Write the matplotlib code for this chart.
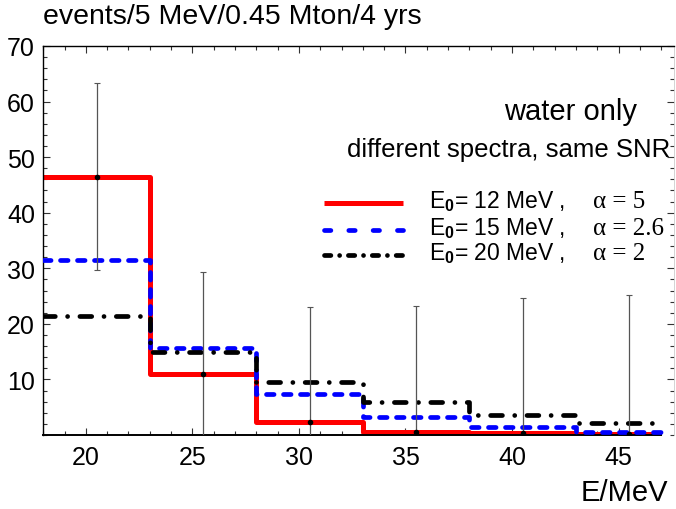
import numpy as np
import matplotlib
matplotlib.use("Agg")
import matplotlib.pyplot as plt
from matplotlib.lines import Line2D
from matplotlib.ticker import MultipleLocator

plt.rcParams["font.family"] = ["Liberation Sans", "DejaVu Sans"]
plt.rcParams["mathtext.fontset"] = "custom"
plt.rcParams["mathtext.rm"] = "Liberation Sans"
plt.rcParams["mathtext.bf"] = "Liberation Sans:bold"

# bin edges (MeV) and event counts per bin
edges = [18, 23, 28, 33, 38, 43, 47]
e12 = [46.5, 10.9, 2.3, 0.5, 0.3, 0.2]
e15 = [31.5, 15.7, 7.3, 3.3, 1.4, 0.6]
e20 = [21.5, 15.0, 9.6, 6.0, 3.6, 2.1]

# pseudo-data points with error bars
pt_x = [20.5, 25.5, 30.5, 35.5, 40.5, 45.5]
pt_y = [46.5, 10.9, 2.3, 0.5, 0.3, 0.2]
pt_err = [16.8, 18.4, 20.8, 22.8, 24.4, 25.0]

labels = [r"E$_{\mathbf{0}}$= 12 MeV ,", r"E$_{\mathbf{0}}$= 15 MeV ,", r"E$_{\mathbf{0}}$= 20 MeV ,"]
alphas = ["α = 5", "α = 2.6", "α = 2"]

fig = plt.figure(figsize=(6.76, 5.10), dpi=100)
ax = fig.add_axes([0.064, 0.145, 0.933, 0.763])

styles = [
    dict(color="#ff0000", lw=3.6, ls="-", zorder=2),
    dict(color="#0000ff", lw=3.4, ls=(0, (1.6, 2.0)), zorder=3),
    dict(color="#000000", lw=3.4, ls=(0, (2.5, 2.6, 0.01, 2.6)), zorder=4),
]
# the legend samples use a tighter/looser pattern than the curves
leg_ls = ["-", (0, (1.35, 3.8)), (0, (1.35, 1.85, 0.01, 1.85))]

for vals, st in zip([e12, e15, e20], styles):
    ax.step(edges, vals + [vals[-1]], where="post", solid_capstyle="butt",
            dash_capstyle="round", **st)

ax.errorbar(pt_x, pt_y, yerr=pt_err, fmt="o", ms=3, color="black",
            ecolor="#555555", elinewidth=0.9, capsize=2.2, capthick=0.8, zorder=5)

ax.set_xlim(18, 47.6)
ax.set_ylim(0, 70)
ax.xaxis.set_major_locator(MultipleLocator(5))
ax.xaxis.set_minor_locator(MultipleLocator(1))
ax.yaxis.set_major_locator(MultipleLocator(10))
ax.yaxis.set_minor_locator(MultipleLocator(2))
ax.set_xticks([20, 25, 30, 35, 40, 45])
ax.set_yticks([10, 20, 30, 40, 50, 60, 70])
ax.tick_params(which="both", direction="in", top=True, right=True,
               labelsize=18, width=0.8, color="#333333")
ax.tick_params(which="major", length=5)
ax.tick_params(which="minor", length=3)
ax.tick_params(axis="x", pad=7)
ax.tick_params(axis="y", pad=6)
for t in ax.yaxis.get_major_ticks() + ax.yaxis.get_minor_ticks():
    t.tick2line.set_color("#aaaaaa")

ax.spines["bottom"].set_bounds(18, 47)
ax.spines["bottom"].set_linewidth(1.4)
ax.spines["left"].set_linewidth(1.0)
ax.spines["top"].set_linewidth(1.0)
ax.spines["right"].set_color("#cccccc")
ax.spines["right"].set_linewidth(0.6)

fig.text(0.064, 0.967, "events/5 MeV/0.45 Mton/4 yrs", fontsize=20.5,
         ha="left", va="center")
fig.text(0.988, 0.033, "E/MeV", fontsize=21, ha="right", va="center")
fig.text(0.942, 0.78, "water only", fontsize=21, ha="right", va="center")
fig.text(0.991, 0.706, "different spectra, same SNR", fontsize=18.5,
         ha="right", va="center")

leg_y = [1 - 204 / 510, 1 - 231 / 510, 1 - 256 / 510]
for yy, st, ls, lab, al in zip(leg_y, styles, leg_ls, labels, alphas):
    fig.add_artist(Line2D([324 / 676, 403 / 676], [yy, yy], transform=fig.transFigure,
                          color=st["color"], lw=st["lw"], ls=ls,
                          solid_capstyle="butt", dash_capstyle="round"))
    fig.text(429 / 676, yy + 0.004, lab, fontsize=16.5, ha="left", va="center")
    fig.text(593 / 676, yy + 0.004, al, fontsize=18, ha="left", va="center",
             family="Liberation Serif")

fig.savefig("out.png", dpi=100)
